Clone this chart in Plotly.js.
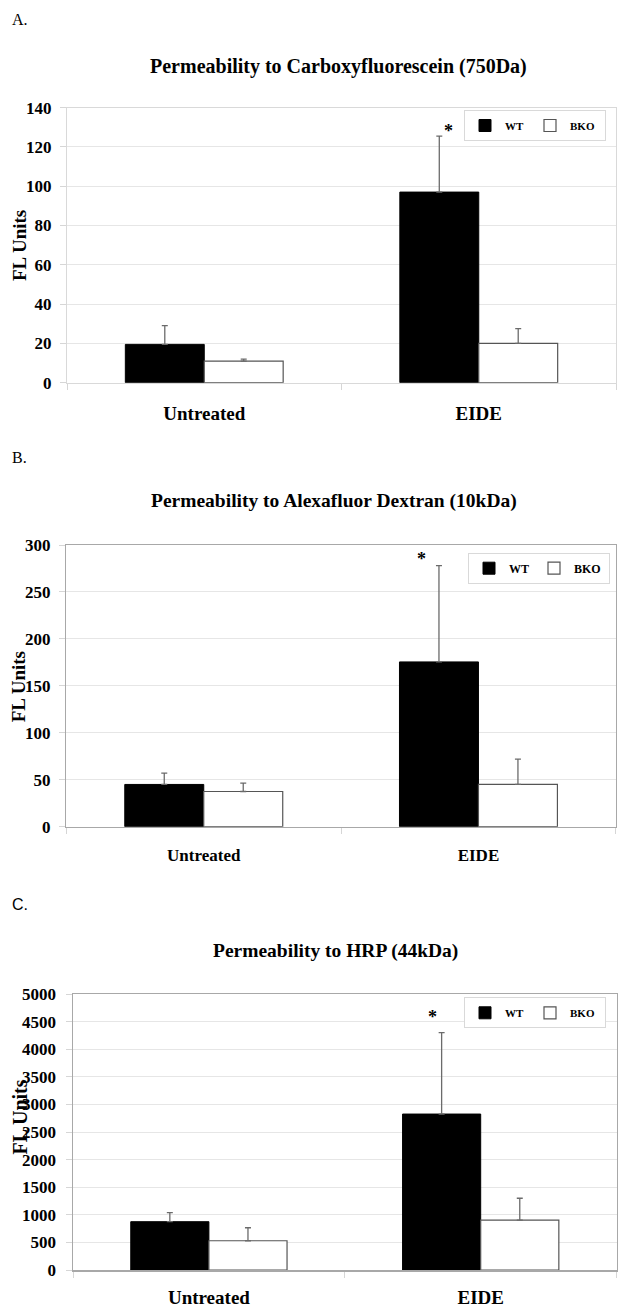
<!DOCTYPE html>
<html>
<head>
<meta charset="utf-8">
<script src="https://cdn.plot.ly/plotly-3.0.1.min.js"></script>
<style>
  html, body { margin: 0; padding: 0; background: #ffffff; }
  #chart { width: 619px; height: 1309px; }
</style>
</head>
<body>
<div id="chart"></div>
<script>
// ---------- data ----------
const categories = ['Untreated', 'EIDE'];
const seriesNames = ['WT', 'BKO'];

const titleA = 'Permeability to Carboxyfluorescein (750Da)';
const wtA = [19.5, 97];
const wtErrA = [9.5, 28.5];
const bkoA = [11, 20];
const bkoErrA = [1, 7.5];

const titleB = 'Permeability to Alexafluor Dextran (10kDa)';
const wtB = [45, 175.5];
const wtErrB = [12, 102.5];
const bkoB = [37.5, 45];
const bkoErrB = [9, 27];

const titleC = 'Permeability to HRP (44kDa)';
const wtC = [875, 2825];
const wtErrC = [165, 1475];
const bkoC = [530, 905];
const bkoErrC = [235, 395];

const yTitle = 'FL Units';
const panelLabels = ['A.', 'B.', 'C.'];
const significanceMark = '*';

// ---------- layout helpers ----------
const W = 619, H = 1309;
const px = x => x / W;
const py = y => 1 - y / H;
const SERIF = '"Liberation Serif", "Times New Roman", Times, serif';
const SANS = '"Liberation Sans", Arial, Helvetica, sans-serif';

const panels = [
  { key: '', title: titleA, wt: wtA, wtErr: wtErrA, bko: bkoA, bkoErr: bkoErrA,
    left: 67, right: 616, top: 107.6, bottom: 382.7, range: [0, 140], dtick: 20,
    lineColor: '#d9d9d9', lineWidth: 1, xFont: 19, yFont: 17, xStandoff: 13, yStandoff: 5,
    titleX: 338.6, titleY: 66.7, titleSize: 20,
    yTitleX: 20, yTitleY: 246, yTitleSize: 19,
    label: panelLabels[0], labelX: 20, labelY: 20, labelFont: SERIF,
    legRight: 606, legTop: 110, legFont: 11,
    starDx: -30.5, starDy: -7 },
  { key: '2', title: titleB, wt: wtB, wtErr: wtErrB, bko: bkoB, bkoErr: bkoErrB,
    left: 66.4, right: 615.8, top: 545, bottom: 826.7, range: [0, 300], dtick: 50,
    lineColor: '#a8a8a8', lineWidth: 1.5, xFont: 17, yFont: 17, xStandoff: 12, yStandoff: 5,
    titleX: 334, titleY: 501, titleSize: 19.5,
    yTitleX: 18.6, yTitleY: 686.7, yTitleSize: 19,
    label: panelLabels[1], labelX: 19, labelY: 457, labelFont: SERIF,
    legRight: 610, legTop: 552.7, legFont: 12,
    starDx: -56.5, starDy: -5 },
  { key: '3', title: titleC, wt: wtC, wtErr: wtErrC, bko: bkoC, bkoErr: bkoErrC,
    left: 73, right: 616.6, top: 994, bottom: 1270, range: [0, 5000], dtick: 500,
    lineColor: '#a8a8a8', lineWidth: 1.5, xFont: 19, yFont: 17, xStandoff: 10, yStandoff: 6,
    titleX: 335, titleY: 951, titleSize: 19.5,
    yTitleX: 19.5, yTitleY: 1117, yTitleSize: 20,
    label: panelLabels[2], labelX: 19.5, labelY: 904, labelFont: SANS,
    legRight: 606, legTop: 997.3, legFont: 11,
    starDx: -48, starDy: 4 }
];

const traces = [];
const layout = {
  width: W, height: H,
  margin: { l: 0, r: 0, t: 0, b: 0, pad: 0 },
  paper_bgcolor: '#ffffff',
  plot_bgcolor: '#ffffff',
  barmode: 'group',
  bargap: 0.425,
  bargroupgap: 0,
  showlegend: true,
  annotations: [],
  font: { family: SERIF, color: '#000000' }
};

panels.forEach((p, i) => {
  const xa = 'x' + p.key, ya = 'y' + p.key;
  const legName = 'legend' + (i === 0 ? '' : String(i + 1));
  const errStyle = { type: 'data', symmetric: false, color: '#6b6b6b', thickness: 1.3, width: 3, visible: true };

  traces.push({
    type: 'bar', name: seriesNames[0], x: categories, y: p.wt,
    xaxis: xa, yaxis: ya, legend: legName, legendwidth: 20,
    marker: { color: '#000000', line: { color: '#000000', width: 1 } },
    error_y: Object.assign({}, errStyle, { array: p.wtErr, arrayminus: p.wtErr.map(() => 0) }),
    hoverinfo: 'skip'
  });
  traces.push({
    type: 'bar', name: seriesNames[1], x: categories, y: p.bko,
    xaxis: xa, yaxis: ya, legend: legName, legendwidth: 30,
    marker: { color: '#ffffff', line: { color: '#555555', width: 1.2 } },
    error_y: Object.assign({}, errStyle, { array: p.bkoErr, arrayminus: p.bkoErr.map(() => 0) }),
    hoverinfo: 'skip'
  });

  layout['xaxis' + p.key] = {
    domain: [px(p.left), px(p.right)],
    anchor: ya,
    type: 'category',
    tickson: 'boundaries',
    ticks: 'outside', ticklen: 6, tickcolor: '#d6d6d6', tickwidth: 1,
    showline: true, linecolor: p.lineColor, linewidth: p.lineWidth, mirror: true,
    showgrid: false, zeroline: false,
    ticklabelstandoff: p.xStandoff,
    tickfont: { family: SERIF, size: p.xFont, color: '#000000', weight: 'bold' },
    fixedrange: true
  };
  layout['yaxis' + p.key] = {
    domain: [py(p.bottom), py(p.top)],
    anchor: xa,
    range: p.range, dtick: p.dtick, tick0: 0,
    ticks: 'outside', ticklen: 6, tickcolor: '#d6d6d6', tickwidth: 1,
    showline: true, linecolor: p.lineColor, linewidth: p.lineWidth, mirror: true,
    showgrid: true, gridcolor: '#e6e6e6', gridwidth: 1,
    zeroline: false,
    ticklabelstandoff: p.yStandoff,
    tickfont: { family: SERIF, size: p.yFont, color: '#000000', weight: 'bold' },
    fixedrange: true
  };

  layout[legName] = {
    orientation: 'h',
    x: px(p.legRight), y: py(p.legTop), xanchor: 'right', yanchor: 'top',
    xref: 'paper', yref: 'paper',
    bgcolor: '#ffffff', bordercolor: '#d9d9d9', borderwidth: 1,
    entrywidthmode: 'pixels',
    itemwidth: 30,
    font: { family: SERIF, size: p.legFont, color: '#000000', weight: 'bold' }
  };

  // chart title
  layout.annotations.push({
    text: p.title, xref: 'paper', yref: 'paper',
    x: px(p.titleX), y: py(p.titleY), xanchor: 'center', yanchor: 'middle',
    showarrow: false,
    font: { family: SERIF, size: p.titleSize, color: '#000000', weight: 'bold' }
  });
  // y-axis title
  layout.annotations.push({
    text: yTitle, xref: 'paper', yref: 'paper', textangle: -90,
    x: px(p.yTitleX), y: py(p.yTitleY), xanchor: 'center', yanchor: 'middle',
    showarrow: false,
    font: { family: SERIF, size: p.yTitleSize, color: '#000000', weight: 'bold' }
  });
  // panel label
  layout.annotations.push({
    text: p.label, xref: 'paper', yref: 'paper',
    x: px(p.labelX), y: py(p.labelY), xanchor: 'center', yanchor: 'middle',
    showarrow: false,
    font: { family: p.labelFont, size: 16, color: '#000000' }
  });
  // significance mark above EIDE WT error bar
  layout.annotations.push({
    text: significanceMark, xref: xa, yref: ya,
    x: categories[1], y: p.wt[1] + p.wtErr[1],
    xanchor: 'center', yanchor: 'bottom',
    xshift: p.starDx, yshift: p.starDy,
    showarrow: false,
    font: { family: SERIF, size: 18, color: '#000000', weight: 'bold' }
  });
});

Plotly.newPlot('chart', traces, layout, { displayModeBar: false, staticPlot: true });
</script>
</body>
</html>
